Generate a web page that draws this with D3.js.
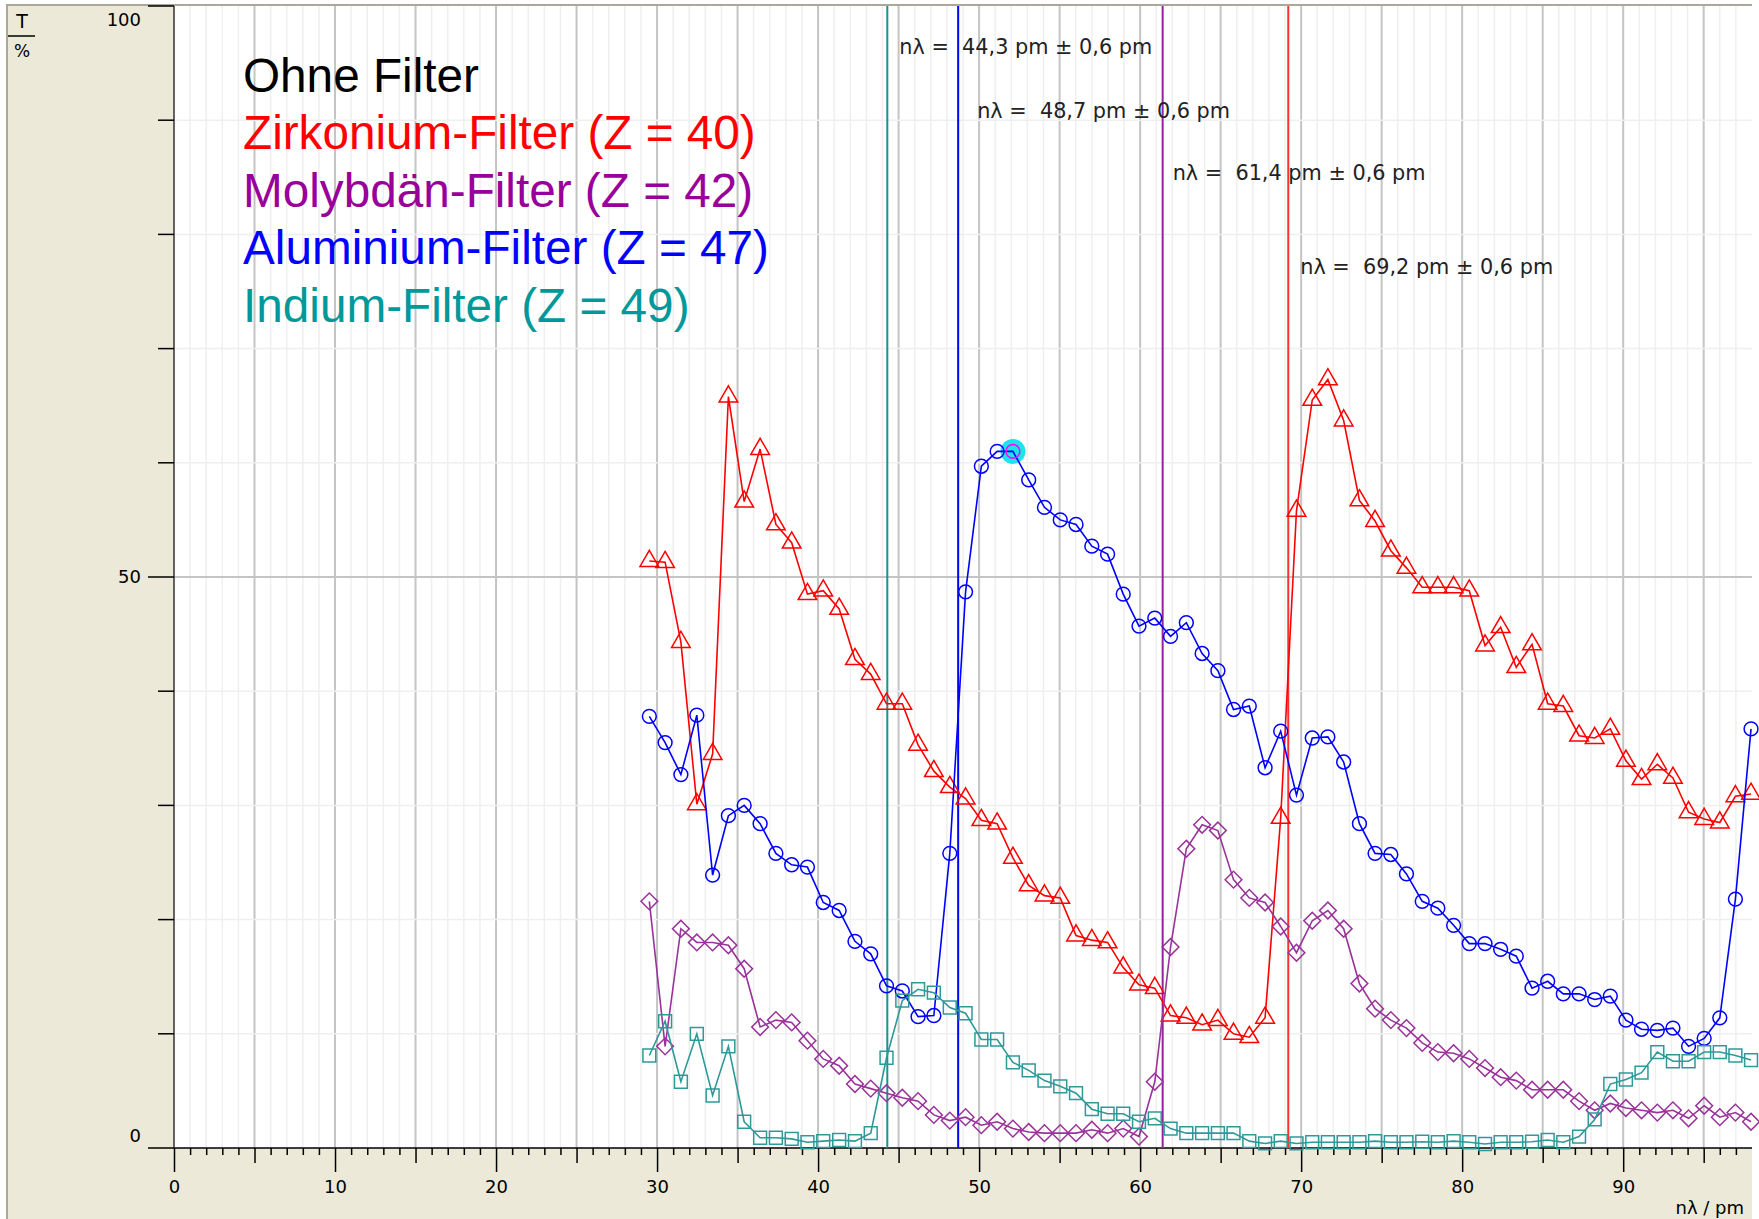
<!DOCTYPE html>
<html>
<head>
<meta charset="utf-8">
<script src="https://cdn.jsdelivr.net/npm/d3@7"></script>
<style>
body { margin:0; background:#fff; }
text { white-space: pre; }
</style>
</head>
<body>
<div id="vis"></div>
<script>
var W = 1759, H = 1219;
var pl = 174, pr = 1752, pt = 6, pb = 1148;

// n*lambda in pm (x values of the measurement points)
var nlambda = [29.52, 30.50, 31.48, 32.47, 33.45, 34.43, 35.41, 36.40, 37.38, 38.36,
  39.34, 40.32, 41.31, 42.29, 43.27, 44.25, 45.23, 46.21, 47.19, 48.18,
  49.16, 50.14, 51.12, 52.10, 53.08, 54.06, 55.04, 56.02, 57.00, 57.98,
  58.95, 59.93, 60.91, 61.89, 62.87, 63.85, 64.83, 65.80, 66.78, 67.76,
  68.73, 69.71, 70.69, 71.66, 72.64, 73.62, 74.59, 75.57, 76.54, 77.52,
  78.49, 79.47, 80.44, 81.42, 82.39, 83.36, 84.34, 85.31, 86.28, 87.26,
  88.23, 89.20, 90.17, 91.14, 92.12, 93.09, 94.06, 95.03, 96.00, 96.97,
  97.94];

var zirkonium = [51.4, 51.3, 44.3, 30.1, 34.5, 65.8, 56.6, 61.2, 54.6, 53.0,
  48.5, 48.8, 47.2, 42.8, 41.5, 38.9, 38.9, 35.3, 33.0, 31.6,
  30.6, 28.7, 28.4, 25.4, 23.0, 22.1, 21.9, 18.6, 18.2, 18.0,
  15.8, 14.3, 14.0, 11.6, 11.4, 10.8, 11.2, 10.0, 9.7, 11.4,
  28.9, 55.8, 65.5, 67.3, 63.7, 56.7, 54.9, 52.3, 50.8, 49.1,
  49.1, 49.1, 48.8, 44.0, 45.6, 42.1, 44.1, 38.9, 38.7, 36.1,
  35.9, 36.7, 33.9, 32.3, 33.6, 32.4, 29.4, 28.8, 28.5, 30.8,
  31.0];

var aluminium = [37.8, 35.5, 32.7, 37.9, 23.9, 29.1, 30.0, 28.4, 25.8, 24.8,
  24.6, 21.5, 20.8, 18.1, 17.0, 14.2, 13.75, 11.5, 11.6, 25.8,
  48.7, 59.7, 61.0, 61.0, 58.5, 56.1, 55.0, 54.6, 52.7, 52.0,
  48.5, 45.7, 46.4, 44.8, 46.0, 43.3, 41.8, 38.4, 38.7, 33.3,
  36.5, 30.9, 35.9, 36.0, 33.8, 28.4, 25.8, 25.7, 24.0, 21.6,
  21.0, 19.5, 17.9, 17.9, 17.4, 16.8, 14.0, 14.6, 13.5, 13.5,
  13.0, 13.3, 11.2, 10.4, 10.3, 10.5, 8.9, 9.6, 11.4, 21.8,
  36.7];

var molybdaen = [21.6, 8.9, 19.2, 18.0, 18.0, 17.75, 15.7, 10.6, 11.2, 11.0,
  9.4, 7.8, 7.2, 5.6, 5.2, 4.8, 4.4, 4.1, 2.9, 2.4,
  2.7, 2.0, 2.3, 1.7, 1.4, 1.3, 1.3, 1.3, 1.6, 1.3,
  1.7, 1.0, 5.8, 17.6, 26.2, 28.3, 27.8, 23.5, 21.9, 21.5,
  19.4, 17.1, 19.9, 20.8, 19.2, 14.4, 12.2, 11.2, 10.5, 9.2,
  8.4, 8.3, 7.8, 7.0, 6.2, 5.9, 5.1, 5.1, 5.1, 4.1,
  3.3, 3.9, 3.5, 3.3, 3.1, 3.3, 2.6, 3.7, 2.7, 3.1,
  2.3];

var indium = [8.1, 11.1, 5.8, 10.0, 4.6, 8.9, 2.3, 0.9, 0.9, 0.8,
  0.5, 0.6, 0.7, 0.6, 1.3, 7.9, 12.9, 13.9, 13.6, 12.3,
  11.8, 9.5, 9.5, 7.5, 6.8, 5.9, 5.4, 4.8, 3.4, 3.0,
  3.0, 2.3, 2.6, 1.7, 1.3, 1.3, 1.3, 1.3, 0.6, 0.4,
  0.6, 0.4, 0.5, 0.5, 0.5, 0.5, 0.6, 0.5, 0.5, 0.55,
  0.5, 0.6, 0.5, 0.35, 0.5, 0.5, 0.55, 0.7, 0.5, 1.0,
  2.5, 5.6, 6.0, 6.6, 8.4, 7.6, 7.6, 8.4, 8.4, 8.1,
  7.7];

// absorption edges
var kanten = [44.3, 48.7, 61.4, 69.2];
var kantenText = ["n\u03bb =  44,3 pm \u00b1 0,6 pm", "n\u03bb =  48,7 pm \u00b1 0,6 pm",
  "n\u03bb =  61,4 pm \u00b1 0,6 pm", "n\u03bb =  69,2 pm \u00b1 0,6 pm"];
var kantenFarbe = ["#1a9090", "#0000ff", "#90249a", "#ff3030"];
var kantenLabelY = [95.8, 90.2, 84.8, 76.5];
var kantenLabelDx = [12, 19, 10, 12];

var legende = ["Ohne Filter", "Zirkonium-Filter (Z = 40)", "Molybd\u00e4n-Filter (Z = 42)",
  "Aluminium-Filter (Z = 47)", "Indium-Filter (Z = 49)"];
var legendeFarbe = ["#000000", "#ff0000", "#990099", "#0000ff", "#009999"];

var xLabels = [0, 10, 20, 30, 40, 50, 60, 70, 80, 90];
var yLabels = [0, 50, 100];
var markiert = 23; // highlighted point on the aluminium curve

var x = d3.scaleLinear().domain([0, 98]).range([pl, pr]);
var y = d3.scaleLinear().domain([0, 100]).range([pb, pt]);

var svg = d3.select("div#vis").append("svg")
  .attr("width", W)
  .attr("height", H);

// frame
svg.append("rect").attr("x", 7).attr("y", 5).attr("width", pr - 7).attr("height", H - 5)
  .style("fill", "#ece9d8");
svg.append("line").attr("x1", 7).attr("x2", 7).attr("y1", 4).attr("y2", H)
  .style("stroke", "#aca899").style("stroke-width", 2);
svg.append("line").attr("x1", 7).attr("x2", pr).attr("y1", 5).attr("y2", 5)
  .style("stroke", "#aca899").style("stroke-width", 2);
svg.append("rect").attr("x", pl).attr("y", pt).attr("width", pr - pl).attr("height", pb - pt)
  .style("fill", "#fff");

// grid
var g = svg.append("g");
g.selectAll("line.vg").data(d3.range(1, 98)).enter().append("line")
  .attr("x1", function(d) { return x(d); }).attr("x2", function(d) { return x(d); })
  .attr("y1", pt).attr("y2", pb)
  .style("stroke", function(d) { return d % 5 === 0 ? "#c4c4c4" : "#efefef"; })
  .style("stroke-width", function(d) { return d % 5 === 0 ? 2 : 1.5; });
g.selectAll("line.hg").data(d3.range(10, 100, 10)).enter().append("line")
  .attr("x1", pl).attr("x2", pr)
  .attr("y1", function(d) { return y(d); }).attr("y2", function(d) { return y(d); })
  .style("stroke", function(d) { return d === 50 ? "#c4c4c4" : "#efefef"; })
  .style("stroke-width", function(d) { return d === 50 ? 2 : 1.5; });

// x axis: three tick lengths
function xAxis(vals, len, labels) {
  var a = d3.axisBottom(x).tickValues(vals).tickSize(len).tickPadding(8);
  if (!labels) a.tickFormat("");
  var ax = svg.append("g").attr("transform", "translate(0," + pb + ")").call(a);
  ax.select(".domain").remove();
  ax.selectAll("line").style("stroke", "#000").style("stroke-width", 1.5);
  ax.selectAll("text").style("font-family", "DejaVu Sans").style("font-size", "18px").style("fill", "#000");
}
xAxis(d3.range(0, 98).filter(function(d) { return d % 5 !== 0; }), 7, false);
xAxis(d3.range(5, 98, 10), 15, false);
xAxis(xLabels, 24, true);
svg.append("line").attr("x1", pl).attr("x2", pr).attr("y1", pb).attr("y2", pb)
  .style("stroke", "#000").style("stroke-width", 1.5);
svg.append("line").attr("x1", pl).attr("x2", pl).attr("y1", pt).attr("y2", pb)
  .style("stroke", "#333").style("stroke-width", 1.5);

// y axis ticks
svg.selectAll("line.yt").data(d3.range(0, 101, 10)).enter().append("line")
  .attr("x1", function(d) { return d % 50 === 0 ? pl - 26 : pl - 16; }).attr("x2", pl)
  .attr("y1", function(d) { return y(d); }).attr("y2", function(d) { return y(d); })
  .style("stroke", "#000").style("stroke-width", 1.5);
svg.selectAll("text.yl").data(yLabels).enter().append("text")
  .attr("x", 141)
  .attr("y", function(d) { return Math.min(Math.max(y(d), 20), 1136); })
  .attr("dy", "0.36em")
  .attr("text-anchor", "end")
  .style("font-family", "DejaVu Sans").style("font-size", "18px")
  .text(function(d) { return d; });

svg.append("text").attr("x", 22).attr("y", 28).attr("text-anchor", "middle")
  .style("font-family", "DejaVu Sans").style("font-size", "19px").text("T");
svg.append("line").attr("x1", 8).attr("x2", 35).attr("y1", 36).attr("y2", 36)
  .style("stroke", "#000").style("stroke-width", 1.5);
svg.append("text").attr("x", 22).attr("y", 57).attr("text-anchor", "middle")
  .style("font-family", "DejaVu Sans").style("font-size", "17px").text("%");
svg.append("text").attr("x", 1744).attr("y", 1214).attr("text-anchor", "end")
  .style("font-family", "DejaVu Sans").style("font-size", "18px").text("n\u03bb / pm");

// edges
svg.selectAll("line.kante").data(kanten).enter().append("line")
  .attr("x1", function(d) { return x(d); }).attr("x2", function(d) { return x(d); })
  .attr("y1", pt).attr("y2", pb)
  .style("stroke", function(d, i) { return kantenFarbe[i]; })
  .style("stroke-width", 2);
svg.selectAll("text.kante").data(kanten).enter().append("text")
  .attr("x", function(d, i) { return x(d) + kantenLabelDx[i]; })
  .attr("y", function(d, i) { return y(kantenLabelY[i]); })
  .style("font-family", "DejaVu Sans").style("font-size", "20.8px").style("fill", "#222")
  .text(function(d, i) { return kantenText[i]; });

// curves
var reihen = [
  {werte: zirkonium, farbe: "#ff0000", sym: d3.symbolTriangle, size: 150, rot: 0},
  {werte: aluminium, farbe: "#0000ff", sym: d3.symbolCircle, size: 150, rot: 0},
  {werte: molybdaen, farbe: "#993399", sym: d3.symbolSquare, size: 140, rot: 45},
  {werte: indium, farbe: "#2e9999", sym: d3.symbolSquare, size: 165, rot: 0}
];

var linie = d3.line()
  .x(function(d, i) { return x(nlambda[i]); })
  .y(function(d) { return y(d); });

reihen.forEach(function(r, k) {
  if (k === 1) {
    svg.append("circle").attr("cx", x(nlambda[markiert])).attr("cy", y(aluminium[markiert]))
      .attr("r", 12.5).style("fill", "#1ee3ee");
  }
  svg.append("path").datum(r.werte).attr("d", linie)
    .style("fill", "none").style("stroke", r.farbe).style("stroke-width", 1.6);
  svg.selectAll("path.m" + k).data(r.werte).enter().append("path")
    .attr("d", d3.symbol().type(r.sym).size(r.size))
    .attr("transform", function(d, i) {
      return "translate(" + x(nlambda[i]) + "," + y(d) + ") rotate(" + r.rot + ")";
    })
    .style("fill", "none")
    .style("stroke", function(d, i) { return (k === 1 && i === markiert) ? "#ff00ff" : r.farbe; })
    .style("stroke-width", 1.5);
});

// legend
svg.selectAll("text.leg").data(legende).enter().append("text")
  .attr("x", 243)
  .attr("y", function(d, i) { return 92 + i * 57.4; })
  .style("font-family", "Liberation Sans, Arial").style("font-size", "47.7px")
  .style("fill", function(d, i) { return legendeFarbe[i]; })
  .text(function(d) { return d; });
</script>
</body>
</html>
